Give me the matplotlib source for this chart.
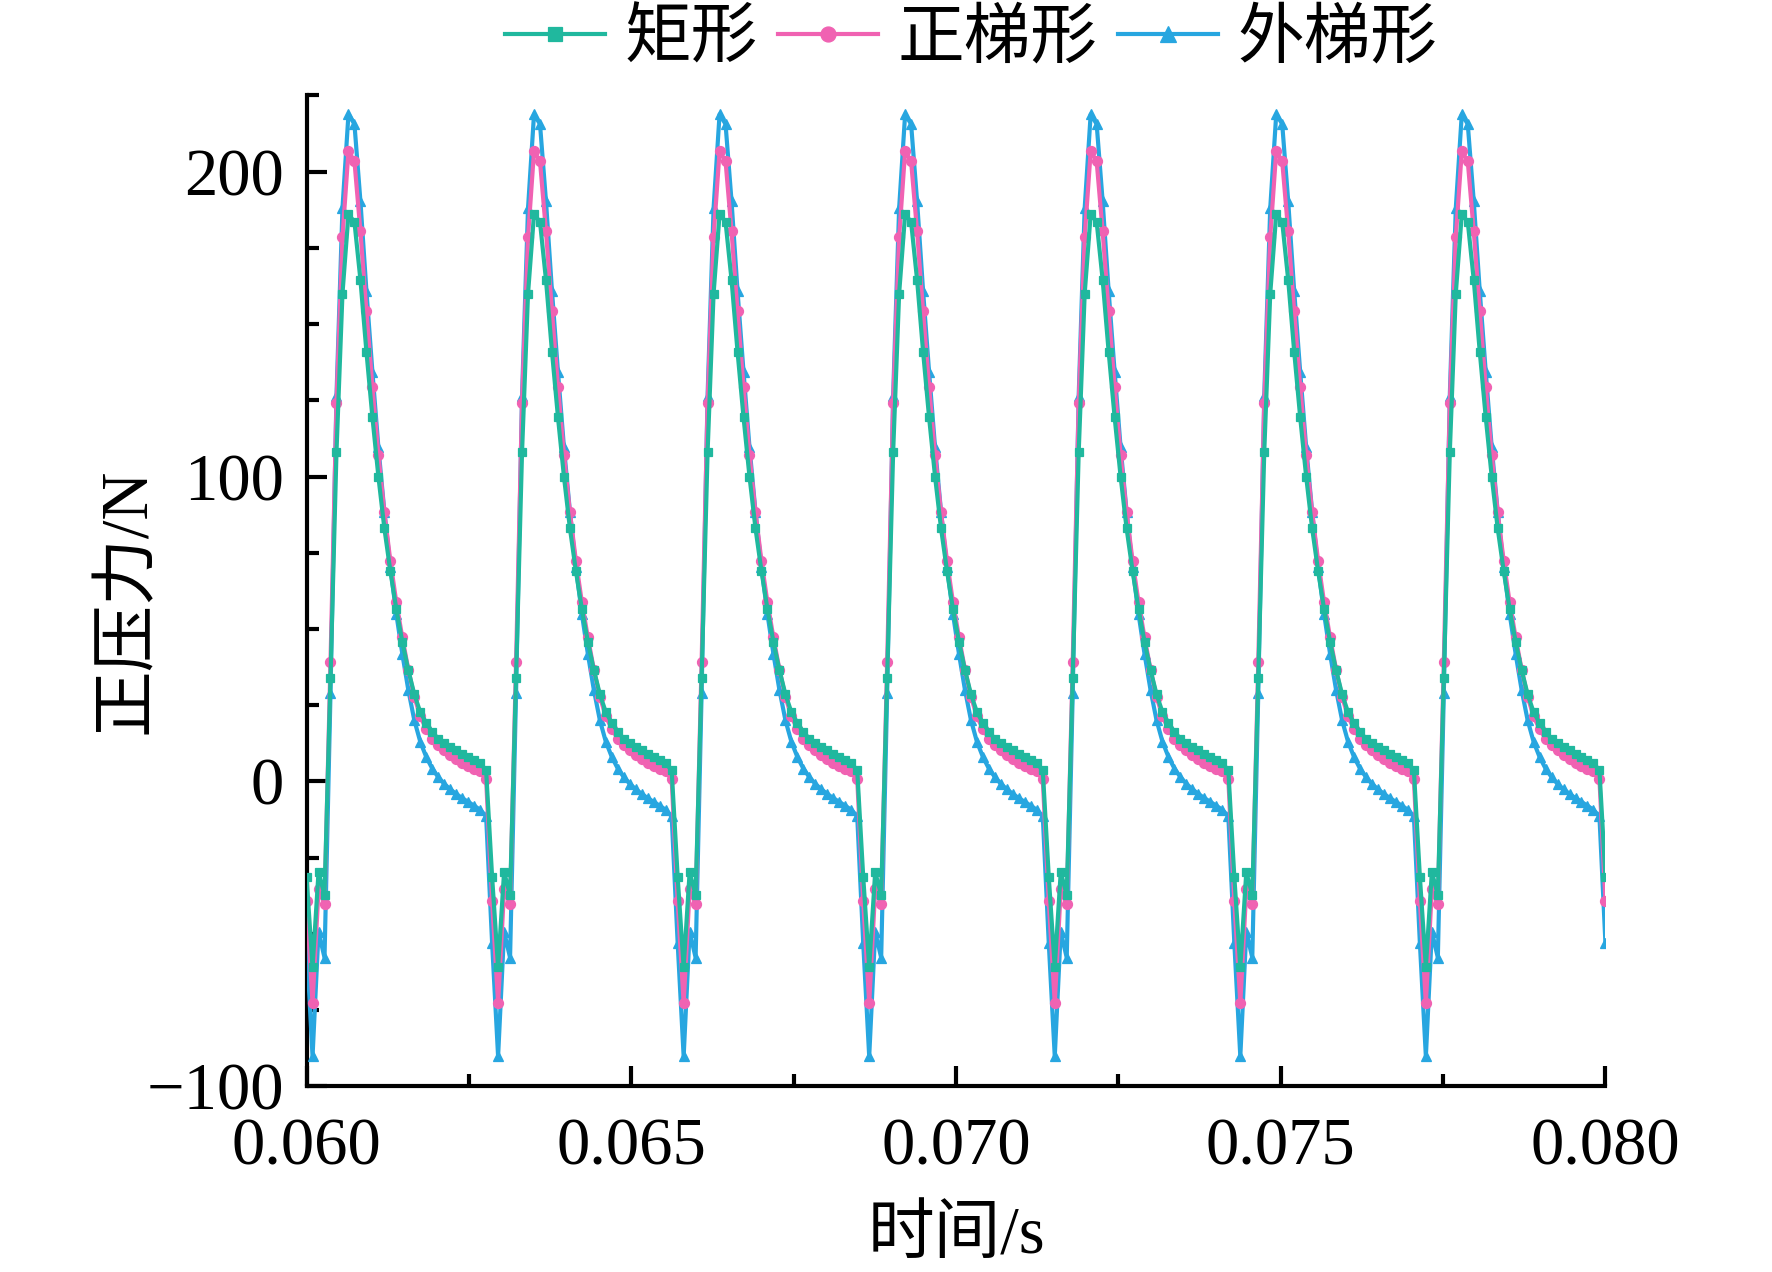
import numpy as np
import matplotlib
matplotlib.use('Agg')
import matplotlib.pyplot as plt
from matplotlib.ticker import MultipleLocator, FormatStrFormatter

plt.rcParams['font.family'] = ['Liberation Serif', 'Noto Sans CJK SC']
plt.rcParams['axes.unicode_minus'] = True

# ---- data ----
t_start, t_end = 0.060, 0.080
n_periods = 7          # 7 identical cycles, 31 samples each
series_names = ['矩形', '正梯形', '外梯形']

# one cycle, starting at the sample just before the trough
rect_cycle = [-31.3, -61.0, -29.7, -37.3, 34.0, 108.0, 160.0, 186.0, 183.5, 164.5,
              141.0, 119.5, 100.0, 83.0, 69.0, 56.5, 45.8, 36.5, 28.6, 22.7,
              19.2, 16.2, 14.0, 12.7, 11.3, 10.2, 9.1, 8.0, 6.9, 6.0, 3.6]
trap_cycle = [-39.3, -72.8, -35.4, -40.3, 39.0, 124.0, 178.5, 206.7, 203.4, 180.4,
              154.3, 129.5, 107.2, 88.2, 72.3, 58.7, 47.2, 36.7, 27.8, 21.3,
              17.2, 14.0, 11.8, 10.2, 8.5, 7.2, 6.1, 5.0, 4.2, 3.3, 0.7]
outer_cycle = [-53.0, -90.2, -49.3, -57.8, 29.0, 126.5, 188.0, 218.8, 215.6, 190.3,
               160.9, 134.4, 109.6, 88.5, 70.3, 54.9, 41.8, 30.0, 20.1, 13.0,
               8.0, 4.2, 1.4, -0.8, -2.6, -4.1, -5.5, -6.7, -8.0, -9.3, -11.5]

cycles = [rect_cycle, trap_cycle, outer_cycle]
colors = ['#20B89E', '#F062B2', '#27A6E0']
markers = ['s', 'o', '^']
msizes = [2.1, 2.4, 2.5]

n_samples = n_periods * len(rect_cycle) + 1
t = np.linspace(t_start, t_end, n_samples)
series = [np.concatenate([np.tile(c, n_periods), c[:1]]) for c in cycles]

# ---- figure ----
fig = plt.figure(figsize=(1772 / 300, 1272 / 300), dpi=300)
ax = fig.add_axes([0.173, 0.146, 0.733, 0.779])

handles = [None] * 3
for idx in [2, 1, 0]:
    h, = ax.plot(t, series[idx], color=colors[idx], lw=1.0, marker=markers[idx],
                 ms=msizes[idx], mec=colors[idx], mfc=colors[idx], mew=0.3,
                 label=series_names[idx], zorder=3 + (2 - idx))
    handles[idx] = h

ax.set_xlim(t_start, t_end)
ax.set_ylim(-100, 225)
ax.xaxis.set_major_locator(MultipleLocator(0.005))
ax.xaxis.set_minor_locator(MultipleLocator(0.0025))
ax.xaxis.set_major_formatter(FormatStrFormatter('%.3f'))
ax.yaxis.set_major_locator(MultipleLocator(100))
ax.yaxis.set_minor_locator(MultipleLocator(25))

for s in ['top', 'right']:
    ax.spines[s].set_visible(False)
for s in ['left', 'bottom']:
    ax.spines[s].set_linewidth(1.0)

ax.tick_params(which='both', direction='in', width=1.0, labelsize=16)
ax.tick_params(which='major', length=4.8)
ax.tick_params(which='minor', length=2.8)
ax.tick_params(axis='x', which='major', pad=7.5)
ax.tick_params(axis='y', which='major', pad=5.5)

ax.set_xlabel('时间/s', fontsize=16)
ax.set_ylabel('正压力/N', fontsize=16)
ax.xaxis.label.set_va('center')
ax.yaxis.label.set_va('center')
ax.xaxis.set_label_coords(0.5, -0.152)
ax.yaxis.set_label_coords(-0.137, 0.49)

fig.legend(handles=handles, labels=series_names, loc='center',
           bbox_to_anchor=(0.548, 0.968), bbox_transform=fig.transFigure,
           ncol=3, frameon=False, fontsize=16, handlelength=1.5,
           handletextpad=0.3, columnspacing=0.3, borderaxespad=0,
           markerscale=1.5)

fig.savefig('out.png', dpi=300)
